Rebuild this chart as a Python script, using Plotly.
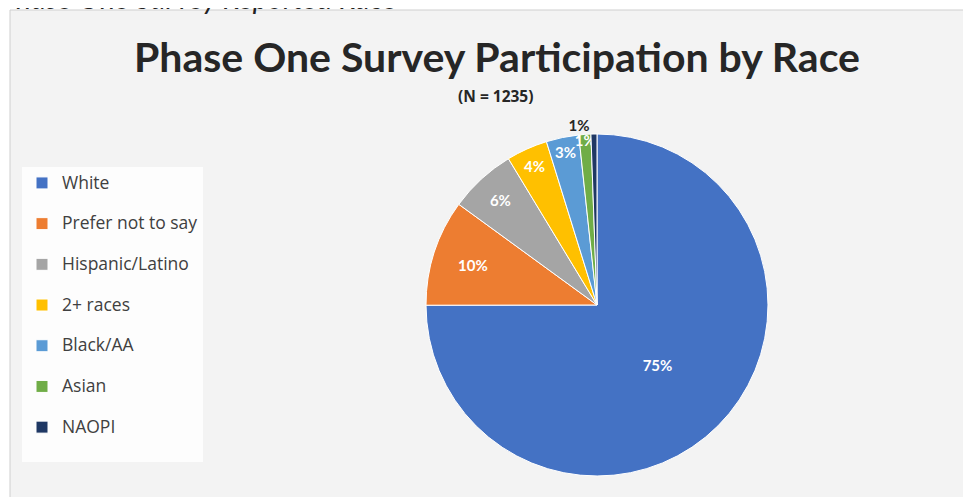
import plotly.graph_objects as go

# ---- data (N = 1235) ----
categories = ["White", "Prefer not to say", "Hispanic/Latino", "2+ races",
              "Black/AA", "Asian", "NAOPI"]
counts = [926, 124, 78, 48, 38, 14, 7]
colors = ["#4472C4", "#ED7D31", "#A5A5A5", "#FFC000", "#5B9BD5", "#70AD47", "#1F3864"]
text_positions = ["inside", "inside", "inside", "inside", "inside", "inside", "outside"]

title_text = "Phase One Survey Participation by Race"
subtitle_text = "(N = 1235)"
caption_text = "Phase One Survey Reported Race"

W, H = 971, 497
FONT = "Lato"
LEG_FONT = "Open Sans"

# legend entries: label on the first line, an empty second line to space entries
legend_labels = ["<span style='font-size:17.5px'>" + c + "</span><br> " for c in categories]

fig = go.Figure()
fig.add_trace(go.Pie(
    labels=legend_labels,
    values=counts,
    sort=False,
    direction="clockwise",
    rotation=0,
    marker=dict(colors=colors, line=dict(color="white", width=1)),
    texttemplate="%{percent:.0%}",
    textposition=text_positions,
    insidetextorientation="horizontal",
    insidetextfont=dict(color="white", size=15, family=FONT, weight="bold"),
    outsidetextfont=dict(color="#262626", size=15, family=FONT, weight="bold"),
    hovertemplate="%{label}: %{value}<extra></extra>",
    domain=dict(x=[418 / W, 760 / W], y=[(H - 473.5) / H, (H - 120.5) / H]),
    showlegend=True,
))

fig.update_layout(
    width=W, height=H,
    margin=dict(l=0, r=0, t=0, b=0),
    paper_bgcolor="white",
    plot_bgcolor="white",
    font=dict(family=FONT, color="#404040"),
    uniformtext=dict(minsize=14, mode="show"),
    title=dict(
        text=title_text,
        font=dict(family=FONT, size=41, color="#262626", weight="bold"),
        x=489 / W, xanchor="center",
        y=(H - 50) / H, yanchor="middle",
    ),
    legend=dict(
        x=14 / W, xanchor="left",
        y=(H - 159) / H, yanchor="top",
        bgcolor="#fdfdfd",
        font=dict(family=LEG_FONT, size=14.5, color="#404040"),
        valign="top",
        traceorder="normal",
    ),
    shapes=[dict(
        type="rect", xref="paper", yref="paper",
        x0=2 / W, x1=1.05, y0=-0.05, y1=(H - 2) / H,
        fillcolor="#f3f3f3", line=dict(color="#cfcfcf", width=1),
        layer="below",
    )],
    annotations=[
        dict(text=subtitle_text, xref="paper", yref="paper",
             x=488 / W, y=(H - 88) / H, xanchor="center", yanchor="middle",
             showarrow=False,
             font=dict(family=LEG_FONT, size=15.5, color="#262626", weight="bold")),
        dict(text="<i>" + caption_text + "</i>", xref="paper", yref="paper",
             x=0, y=1, xanchor="left", yanchor="bottom", yshift=-9, xshift=-10,
             showarrow=False,
             font=dict(family=FONT, size=29, color="#222222")),
    ],
)

fig.write_html("out.html")
